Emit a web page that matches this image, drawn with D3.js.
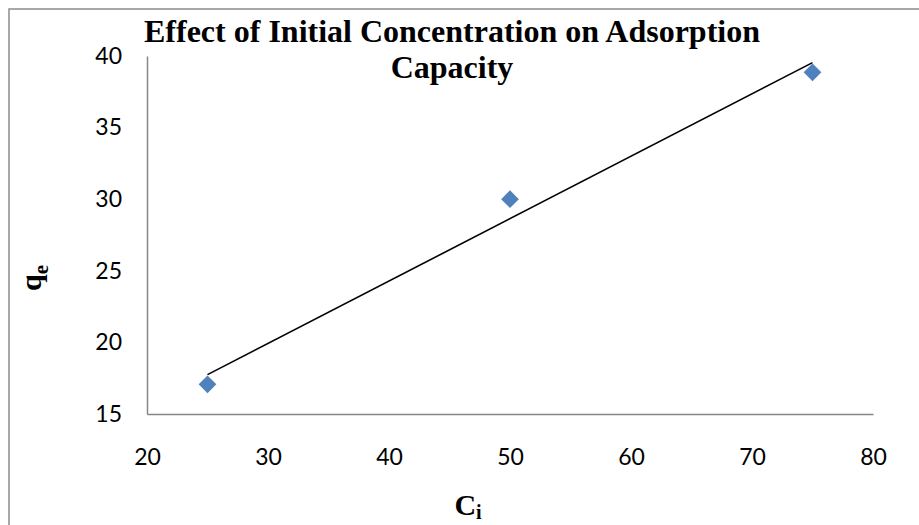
<!DOCTYPE html>
<html>
<head>
<meta charset="utf-8">
<script src="https://cdn.jsdelivr.net/npm/d3@7"></script>
<style>
  body { margin: 0; background: #fff; }
  svg { display: block; }
</style>
</head>
<body>
<div id="chart"></div>
<script>
// data
const concentrations = [25, 50, 75];
const capacities = [17.07, 30.0, 38.86];
const xTicks = [20, 30, 40, 50, 60, 70, 80];
const yTicks = [15, 20, 25, 30, 35, 40];
const titleLines = ['Effect of Initial Concentration on Adsorption', 'Capacity'];

const width = 919, height = 525;
const plot = { left: 147, right: 873, top: 56, bottom: 414 };
const serif = '"Liberation Serif", "Times New Roman", serif';

const svg = d3.select('#chart')
  .append('svg')
  .attr('width', width)
  .attr('height', height);

// outer chart border (runs off the right and bottom edges)
svg.append('rect')
  .attr('x', 9).attr('y', 9)
  .attr('width', 1000).attr('height', 1000)
  .attr('fill', 'none')
  .attr('stroke', '#8c8c8c')
  .attr('stroke-width', 1.5);

const x = d3.scaleLinear().domain([20, 80]).range([plot.left, plot.right]);
const y = d3.scaleLinear().domain([15, 40]).range([plot.bottom, plot.top]);

// axes: lines only, no tick marks
const xAxis = svg.append('g')
  .attr('transform', `translate(0,${plot.bottom})`)
  .call(d3.axisBottom(x).tickValues(xTicks).tickSize(0).tickPadding(35));
const yAxis = svg.append('g')
  .attr('transform', `translate(${plot.left},0)`)
  .call(d3.axisLeft(y).tickValues(yTicks).tickSize(0).tickPadding(25));

[xAxis, yAxis].forEach(a => {
  a.select('.domain').attr('stroke', '#868686').attr('stroke-width', 1.5);
  a.selectAll('text')
    .style('font-family', 'Lato, "Open Sans", sans-serif')
    .style('font-size', '23px')
    .attr('fill', '#000');
});
yAxis.selectAll('text').attr('dy', '0.32em');

// linear trendline through the points (least squares)
const mx = d3.mean(concentrations), my = d3.mean(capacities);
const slope = d3.sum(concentrations, (c, i) => (c - mx) * (capacities[i] - my)) /
  d3.sum(concentrations, c => (c - mx) ** 2);
const intercept = my - slope * mx;
const xExt = d3.extent(concentrations);

svg.append('line')
  .attr('x1', x(xExt[0])).attr('y1', y(slope * xExt[0] + intercept))
  .attr('x2', x(xExt[1])).attr('y2', y(slope * xExt[1] + intercept))
  .attr('stroke', '#000')
  .attr('stroke-width', 1.6);

// diamond markers
const diamond = d3.symbol().type(d3.symbolDiamond2).size(200);
svg.selectAll('.pt')
  .data(concentrations)
  .enter()
  .append('path')
  .attr('class', 'pt')
  .attr('d', diamond)
  .attr('transform', (d, i) => `translate(${x(d)},${y(capacities[i])})`)
  .attr('fill', '#4F81BD');

// title
svg.append('text')
  .attr('x', 452).attr('y', 42)
  .attr('text-anchor', 'middle')
  .style('font-family', serif)
  .style('font-weight', 'bold')
  .style('font-size', '32px')
  .selectAll('tspan')
  .data(titleLines)
  .enter()
  .append('tspan')
  .attr('x', 452)
  .attr('dy', (d, i) => i === 0 ? 0 : 36)
  .text(d => d);

// axis titles
const xLabel = svg.append('text')
  .attr('x', 468).attr('y', 515)
  .attr('text-anchor', 'middle')
  .style('font-family', serif)
  .style('font-weight', 'bold')
  .style('font-size', '30px');
xLabel.append('tspan').text('C');
xLabel.append('tspan').attr('dy', 4).style('font-size', '20px').text('i');

const yLabel = svg.append('text')
  .attr('transform', 'translate(41,278) rotate(-90)')
  .attr('text-anchor', 'middle')
  .style('font-family', serif)
  .style('font-weight', 'bold')
  .style('font-size', '30px');
yLabel.append('tspan').text('q');
yLabel.append('tspan').attr('dy', 7).style('font-size', '21px').text('e');
</script>
</body>
</html>
